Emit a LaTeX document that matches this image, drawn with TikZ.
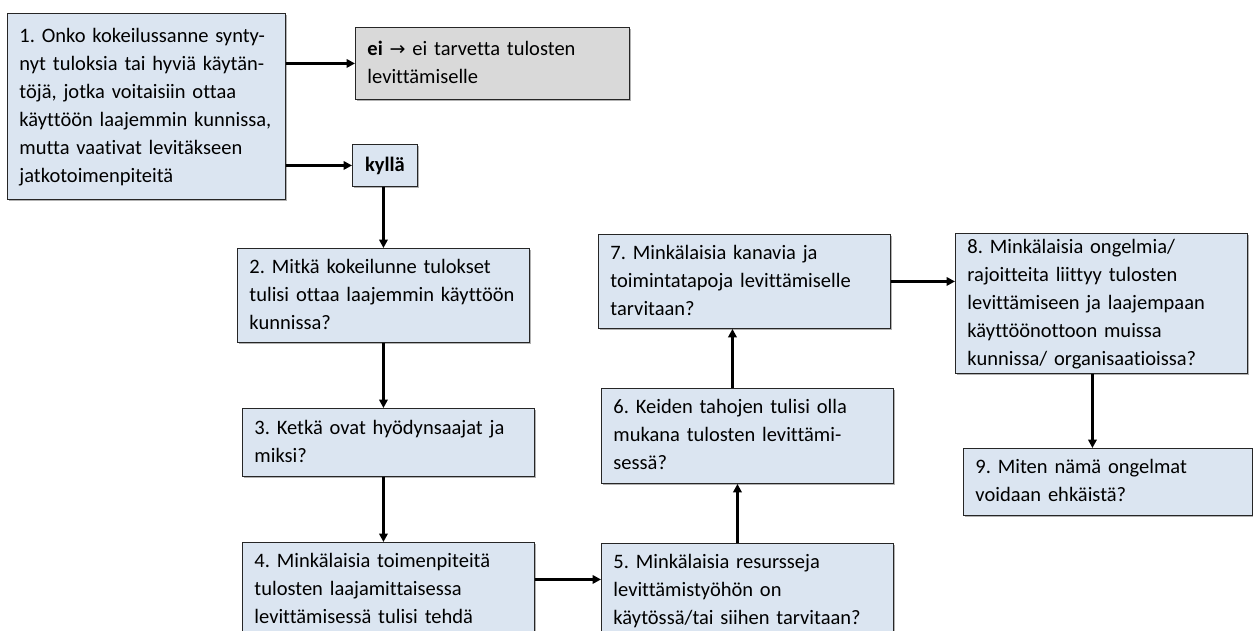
\documentclass[tikz,border=0pt]{standalone}
\usepackage{fontspec}
\setmainfont[Ligatures=NoCommon]{Carlito}
\newfontfamily\arrowfont{DejaVu Sans}
\usetikzlibrary{arrows.meta,shadows}
\definecolor{boxblue}{HTML}{DBE5F1}
\definecolor{boxgrey}{HTML}{D9D9D9}
\frenchspacing
\newcommand{\boxlines}[1]{\begin{tabular}{@{}l@{}}#1\end{tabular}}
\begin{document}
\begin{tikzpicture}[x=1pt,y=-1pt,
  box/.style={draw=black!85, fill=boxblue, line width=0.9pt, inner xsep=12pt, inner ysep=0pt,
    anchor=north west, align=left, font=\fontsize{20.5}{28}\selectfont,
    drop shadow={shadow xshift=1.5pt,shadow yshift=-1.5pt,fill=black,opacity=0.3}},
  conn/.style={line width=2.2pt, -{Triangle[length=8.5pt,width=8.5pt]}}
]
\clip (0,0) rectangle (1253,630);
\fill[white] (0,0) rectangle (1253,630);

\node[box, text width=254pt, minimum height=186pt] (b1) at (7,13)
 {\boxlines{1. Onko kokeilussanne synty-\\nyt tuloksia tai hyviä käytän-\\töjä, jotka voitaisiin ottaa\\käyttöön laajemmin kunnissa,\\mutta vaativat levitäkseen\\jatkotoimenpiteitä}};
\node[box, fill=boxgrey, text width=250pt, minimum height=72pt] (ei) at (355,27)
 {\boxlines{\textbf{ei} {\arrowfont\fontsize{19}{28}\selectfont →} ei tarvetta tulosten\\levittämiselle}};
\node[box, inner xsep=0pt, align=center, minimum width=65pt, minimum height=42pt] (kylla) at (352,144)
 {\textbf{kyllä}};
\node[box, text width=268pt, minimum height=94pt] (b2) at (237,248)
 {\boxlines{2. Mitkä kokeilunne tulokset\\tulisi ottaa laajemmin käyttöön\\kunnissa?}};
\node[box, text width=268pt, minimum height=68pt] (b3) at (242,408)
 {\boxlines{3. Ketkä ovat hyödynsaajat ja\\miksi?}};
\node[box, text width=268pt, minimum height=94pt] (b4) at (242,542)
 {\boxlines{4. Minkälaisia toimenpiteitä\\tulosten laajamittaisessa\\levittämisessä tulisi tehdä}};
\node[box, text width=268pt, minimum height=94pt] (b5) at (601,543)
 {\boxlines{5. Minkälaisia resursseja\\levittämistyöhön on\\käytössä/tai siihen tarvitaan?}};
\node[box, text width=268pt, minimum height=95pt] (b6) at (601,388)
 {\boxlines{6. Keiden tahojen tulisi olla\\mukana tulosten levittämi-\\sessä?}};
\node[box, text width=268pt, minimum height=94pt] (b7) at (598,234)
 {\boxlines{7. Minkälaisia kanavia ja\\toimintatapoja levittämiselle\\tarvitaan?}};
\node[box, text width=268pt, minimum height=139pt] (b8) at (955,233)
 {\boxlines{8. Minkälaisia ongelmia/\\rajoitteita liittyy tulosten\\levittämiseen ja laajempaan\\käyttöönottoon muissa\\kunnissa/ organisaatioissa?}};
\node[box, text width=265pt, minimum height=67pt] (b9) at (963,448)
 {\boxlines{9. Miten nämä ongelmat\\voidaan ehkäistä?}};

\draw[conn] (b1.east |- ei.west) -- (ei.west);
\draw[conn] (b1.east |- kylla.west) -- (kylla.west);
\draw[conn] ([xshift=-1.5pt]kylla.south) -- ([xshift=-1.5pt]kylla.south |- b2.north);
\draw[conn] (b2.south) -- (b2.south |- b3.north);
\draw[conn] (b2.south |- b3.south) -- (b2.south |- b4.north);
\draw[conn] ([yshift=10pt]b4.east) -- ([yshift=10pt]b4.east -| b5.west);
\draw[conn] ([xshift=-10pt]b5.north) -- ([xshift=-10pt]b5.north |- b6.south);
\draw[conn] ([xshift=-15pt]b6.north) -- ([xshift=-15pt]b6.north |- b7.south);
\draw[conn] (b7.east) -- (b7.east -| b8.west);
\draw[conn] ([xshift=-9pt]b8.south) -- ([xshift=-9pt]b8.south |- b9.north);
\end{tikzpicture}
\end{document}
